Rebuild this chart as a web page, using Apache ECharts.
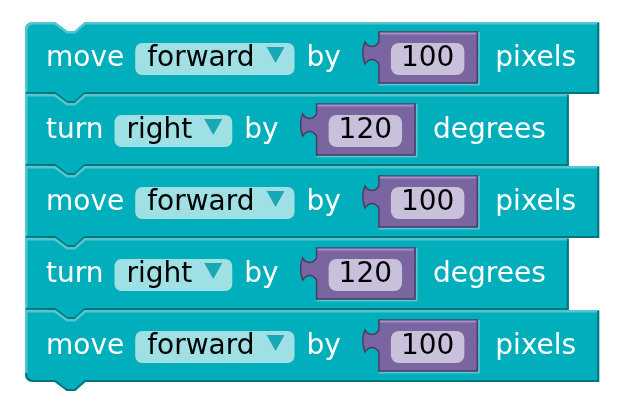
<!DOCTYPE html>
<html>
<head>
<meta charset="utf-8">
<script src="https://cdn.jsdelivr.net/npm/echarts@6/dist/echarts.min.js"></script>
<style>
  html, body { margin: 0; padding: 0; background: #fff; }
  #main { width: 625px; height: 412px; }
</style>
</head>
<body>
<div id="main"></div>
<script>
// blocks of the program, top to bottom
const steps = ['step 1', 'step 2', 'step 3', 'step 4', 'step 5'];
const verbs = ['move', 'turn', 'move', 'turn', 'move'];
const choices = ['forward', 'right', 'forward', 'right', 'forward'];
const amounts = [100, 120, 100, 120, 100];
const units = ['pixels', 'degrees', 'pixels', 'degrees', 'pixels'];
const joiner = 'by';

const FONT = '"DejaVu Sans"';
const SIZE = 28;
const TEAL = '#00aebc', TEAL_LIGHT = '#55c6d0', TEAL_DARK = '#00767f';
const PILL = '#9ee0e4', ARROW = '#17a8b4';
const PURPLE = '#7a65a0', PURPLE_LIGHT = '#a08fc4', PURPLE_DARK = '#4b3b67', PURPLE_PILL = '#c9c1dc';

const ctx = document.createElement('canvas').getContext('2d');
function tw(s) {
  ctx.font = SIZE + 'px ' + FONT;
  return ctx.measureText(String(s)).width;
}

function label(x, y, s, color) {
  return {
    type: 'text',
    style: { x: x, y: y, text: String(s), fill: color, font: SIZE + 'px ' + FONT, verticalAlign: 'middle', align: 'left' }
  };
}

function renderItem(params, api) {
  const i = params.dataIndex;
  const n = verbs.length;
  const p = api.coord([0, i]);
  const x0 = p[0], cy = p[1];
  const top = cy - 36, bot = cy + 36;
  const ty = top + 37;
  const kids = [];

  // layout from left to right
  const verbX = x0 + 21;
  const pillX = verbX + tw(verbs[i]) + 11;
  const optW = tw(choices[i]);
  const pillW = 12 + optW + 12 + 18 + 10;
  const byX = pillX + pillW + 12;
  const rx = byX + tw(joiner) + 38;
  const ry = top + 10;
  const amtW = tw(amounts[i]);
  const rw = 12 + 10 + amtW + 10 + 13;
  const rh = 51;
  const unitX = rx + rw + 18;
  const w = unitX + tw(units[i]) + 23 - x0;
  const x1 = x0 + w;

  const rt = i === 0 ? 8 : 0;
  const rb = i === n - 1 ? 8 : 0;

  // block body with notch on top and tab below
  let d = 'M' + x0 + ',' + (top + rt);
  if (rt) d += ' Q' + x0 + ',' + top + ' ' + (x0 + rt) + ',' + top;
  d += ' L' + (x0 + 30) + ',' + top + ' L' + (x0 + 42) + ',' + (top + 9) +
       ' L' + (x0 + 50) + ',' + (top + 9) + ' L' + (x0 + 60) + ',' + top +
       ' L' + x1 + ',' + top + ' L' + x1 + ',' + bot +
       ' L' + (x0 + 60) + ',' + bot + ' L' + (x0 + 50) + ',' + (bot + 9) +
       ' L' + (x0 + 42) + ',' + (bot + 9) + ' L' + (x0 + 30) + ',' + bot +
       ' L' + (x0 + rb) + ',' + bot;
  if (rb) d += ' Q' + x0 + ',' + bot + ' ' + x0 + ',' + (bot - rb);
  d += ' Z';
  kids.push({ type: 'path', shape: { pathData: d }, style: { fill: TEAL } });

  // light edge: left and top
  let hl = 'M' + (x0 + 1.2) + ',' + (bot - rb - 1) + ' L' + (x0 + 1.2) + ',' + (top + rt + 1);
  if (rt) hl += ' Q' + (x0 + 1.2) + ',' + (top + 1.2) + ' ' + (x0 + rt + 1) + ',' + (top + 1.2);
  hl += ' L' + (x0 + 30) + ',' + (top + 1.2) + ' L' + (x0 + 42) + ',' + (top + 10.2) +
        ' L' + (x0 + 50) + ',' + (top + 10.2) + ' L' + (x0 + 60) + ',' + (top + 1.2) +
        ' L' + (x1 - 1) + ',' + (top + 1.2);
  kids.push({ type: 'path', shape: { pathData: hl }, style: { fill: null, stroke: TEAL_LIGHT, lineWidth: 2.5 } });

  // dark edge: right and bottom
  let dk = 'M' + (x1 - 1) + ',' + (top + 1) + ' L' + (x1 - 1) + ',' + (bot - 1) +
           ' L' + (x0 + 60) + ',' + (bot - 1) + ' L' + (x0 + 50) + ',' + (bot + 8) +
           ' L' + (x0 + 42) + ',' + (bot + 8) + ' L' + (x0 + 30) + ',' + (bot - 1) +
           ' L' + (x0 + rb + 1) + ',' + (bot - 1);
  if (rb) dk += ' Q' + (x0 + 1) + ',' + (bot - 1) + ' ' + (x0 + 1) + ',' + (bot - rb - 1);
  kids.push({ type: 'path', shape: { pathData: dk }, style: { fill: null, stroke: TEAL_DARK, lineWidth: 2 } });

  // verb
  kids.push(label(verbX, ty, verbs[i], '#fff'));

  // dropdown
  kids.push({ type: 'rect', shape: { x: pillX, y: top + 21, width: pillW, height: 32, r: 7 }, style: { fill: PILL } });
  kids.push(label(pillX + 12, ty, choices[i], '#000'));
  const ax = pillX + 12 + optW + 12;
  kids.push({ type: 'polygon', shape: { points: [[ax, top + 25], [ax + 18, top + 25], [ax + 9, top + 41]] }, style: { fill: ARROW } });

  // "by"
  kids.push(label(byX, ty, joiner, '#fff'));

  // socket edge
  kids.push({ type: 'polyline', shape: { points: [[rx + rw + 1.5, ry], [rx + rw + 1.5, ry + rh + 1.5], [rx, ry + rh + 1.5]] },
    style: { fill: null, stroke: TEAL_LIGHT, lineWidth: 2 } });

  // number block with puzzle tab
  const pd = 'M' + rx + ',' + ry + ' L' + (rx + rw) + ',' + ry + ' L' + (rx + rw) + ',' + (ry + rh) +
    ' L' + rx + ',' + (ry + rh) + ' L' + rx + ',' + (ry + 32) +
    ' C' + (rx - 4) + ',' + (ry + 26) + ' ' + (rx - 10) + ',' + (ry + 26) + ' ' + (rx - 14) + ',' + (ry + 32) +
    ' Q' + (rx - 18) + ',' + (ry + 21) + ' ' + (rx - 14) + ',' + (ry + 10) +
    ' C' + (rx - 10) + ',' + (ry + 16) + ' ' + (rx - 4) + ',' + (ry + 16) + ' ' + rx + ',' + (ry + 10) + ' Z';
  kids.push({ type: 'path', shape: { pathData: pd }, style: { fill: PURPLE, stroke: PURPLE_DARK, lineWidth: 1.5 } });
  kids.push({ type: 'polyline', shape: { points: [[rx + 1, ry + 1.5], [rx + rw - 1, ry + 1.5]] },
    style: { fill: null, stroke: PURPLE_LIGHT, lineWidth: 2 } });
  kids.push({ type: 'rect', shape: { x: rx + 12, y: top + 21, width: 20 + amtW, height: 32, r: 8 }, style: { fill: PURPLE_PILL } });
  kids.push(label(rx + 12 + 10, ty, amounts[i], '#000'));

  // unit
  kids.push(label(unitX, ty, units[i], '#fff'));

  return { type: 'group', children: kids };
}

const chart = echarts.init(document.getElementById('main'));
chart.setOption({
  animation: false,
  grid: { left: 25, right: 24, top: 22, bottom: 30 },
  xAxis: { type: 'value', min: 0, max: 576, show: false },
  yAxis: { type: 'category', data: steps, inverse: true, show: false },
  series: [{
    type: 'custom',
    clip: false,
    renderItem: renderItem,
    data: steps.map(function (s, i) { return [0, i]; })
  }]
});
</script>
</body>
</html>
